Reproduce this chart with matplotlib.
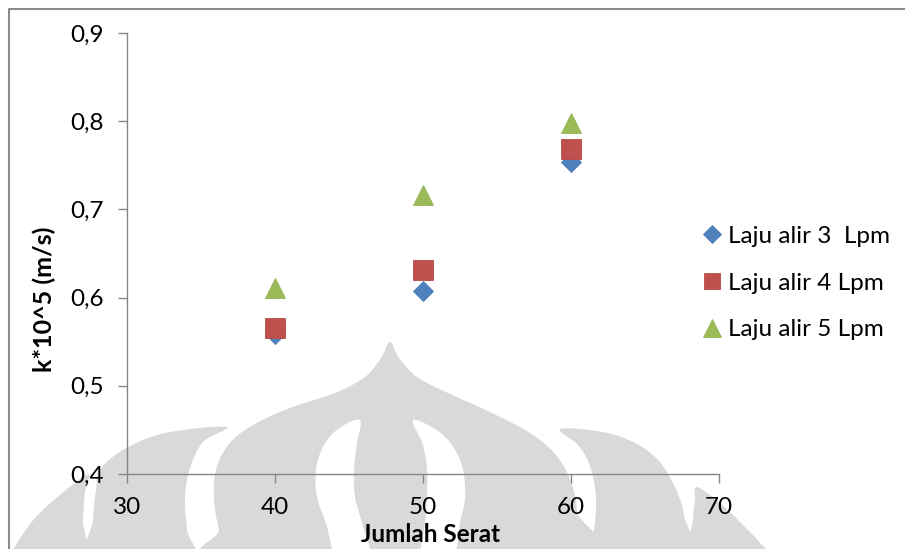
import matplotlib
matplotlib.use('Agg')

import matplotlib.pyplot as plt
import numpy as np
from matplotlib.patches import Polygon

plt.rcParams['font.family'] = ['Lato', 'DejaVu Sans']

# jumlah serat vs k*10^5 (m/s) for three flow rates
jumlah_serat = [40, 50, 60]
k_3lpm = [0.559, 0.607, 0.754]
k_4lpm = [0.565, 0.631, 0.768]
k_5lpm = [0.611, 0.716, 0.798]

labels = ['Laju alir 3  Lpm', 'Laju alir 4 Lpm', 'Laju alir 5 Lpm']
x_ticks = [30, 40, 50, 60, 70]
y_ticks = [0.4, 0.5, 0.6, 0.7, 0.8, 0.9]
y_tick_labels = ['0,4', '0,5', '0,6', '0,7', '0,8', '0,9']


def smooth(points, n=10):
    # closed catmull-rom curve through the given outline points
    p = np.asarray(points, dtype=float)
    m = len(p)
    out = []
    for i in range(m):
        p0, p1, p2, p3 = p[i - 1], p[i], p[(i + 1) % m], p[(i + 2) % m]
        for t in np.linspace(0, 1, n, endpoint=False):
            t2, t3 = t * t, t * t * t
            out.append(0.5 * (2 * p1 + (-p0 + p2) * t
                              + (2 * p0 - 5 * p1 + 4 * p2 - p3) * t2
                              + (-p0 + 3 * p1 - 3 * p2 + p3) * t3))
    return np.array(out)


W, H = 905, 549
fig = plt.figure(figsize=(W / 100, H / 100), dpi=100)

# background logo, drawn in pixel coordinates
bg = fig.add_axes([0, 0, 1, 1], zorder=0)
bg.set_xlim(0, W)
bg.set_ylim(H, 0)
bg.axis('off')

grey = '#d9d9d9'
dome = [(227, 560), (219, 530), (214, 500), (216, 470), (229, 444), (253, 425),
        (290, 408), (335, 393), (365, 377), (381, 358), (390, 342), (399, 358),
        (417, 377), (448, 393), (490, 412), (530, 433), (556, 455), (571, 482),
        (577, 512), (576, 560)]
wing_l = [(227, 427), (203, 442), (190, 468), (185, 497), (187, 530), (190, 560),
          (92, 560), (93, 520), (96, 490), (101, 468), (130, 446), (170, 432)]
sliver_l = [(88, 474), (60, 495), (35, 518), (16, 545), (10, 560), (82, 560),
            (83, 520), (85, 492)]
wing_r = [(560, 429), (603, 432), (635, 443), (658, 460), (674, 485), (684, 515),
          (687, 560), (587, 560), (594, 530), (596, 497), (590, 466), (578, 445)]
sliver_r = [(697, 487), (722, 505), (743, 525), (760, 543), (770, 560), (693, 560),
            (693, 520), (695, 500)]
petal_l = [(360, 420), (338, 429), (323, 447), (316, 470), (317, 497), (326, 523),
           (338, 560), (370, 560), (362, 523), (355, 497), (354, 470), (357, 443)]
petal_r = [(413, 420), (438, 431), (454, 448), (463, 470), (465, 497), (460, 523),
           (452, 560), (422, 560), (425, 523), (427, 497), (427, 470), (423, 445)]
for shape in (dome, wing_l, sliver_l, wing_r, sliver_r):
    bg.add_patch(Polygon(smooth(shape), closed=True, fc=grey, ec='none'))
for shape in (petal_l, petal_r):
    bg.add_patch(Polygon(smooth(shape), closed=True, fc='white', ec='none'))

# chart area frame
bg.plot([9, 9, W], [H, 9, 9], color='#8c8c8c', lw=1.5, clip_on=False)

ax = fig.add_axes([127 / W, 1 - 474 / H, (719 - 127) / W, (474 - 33) / H], zorder=1)
ax.patch.set_alpha(0)

ax.plot(jumlah_serat, k_3lpm, ls='none', marker='D', ms=10.5,
        mfc='#4f81bd', mec='#4a7ab5', mew=0.6, label=labels[0])
ax.plot(jumlah_serat, k_4lpm, ls='none', marker='s', ms=14,
        mfc='#c0504d', mec='#b84a47', mew=0.6, label=labels[1])
ax.plot(jumlah_serat, k_5lpm, ls='none', marker='^', ms=15,
        mfc='#9bbb59', mec='#93b354', mew=0.6, label=labels[2])

ax.set_xlim(30, 70)
ax.set_ylim(0.4, 0.9)
ax.set_xticks(x_ticks)
ax.set_yticks(y_ticks)
ax.set_yticklabels(y_tick_labels)

for side in ('top', 'right'):
    ax.spines[side].set_visible(False)
for side in ('left', 'bottom'):
    ax.spines[side].set_color('#868686')
    ax.spines[side].set_linewidth(1.0)
ax.tick_params(axis='both', direction='out', length=6.5, width=1.0,
               color='#868686', labelsize=17.5, labelcolor='black')
ax.tick_params(axis='y', pad=10)
ax.tick_params(axis='x', pad=10)

ax.set_xlabel('Jumlah Serat', fontsize=17.5, fontweight='bold')
ax.xaxis.label.set_va('center')
ax.xaxis.set_label_coords((431 - 127) / 592, (474 - 534) / 441)
ax.set_ylabel('k*10^5 (m/s)', fontsize=18, fontweight='bold')
ax.yaxis.label.set_va('center')
ax.yaxis.set_label_coords((44 - 127) / 592, (474 - 299) / 441)

ax.legend(loc='center left', bbox_to_anchor=(702 / W, 1 - 283 / H),
          bbox_transform=fig.transFigure, frameon=False, fontsize=17.5,
          markerscale=0.85, handlelength=0.8, handletextpad=0.25,
          labelspacing=1.05, borderpad=0, borderaxespad=0)

fig.savefig('out.png', dpi=100)
plt.close(fig)
